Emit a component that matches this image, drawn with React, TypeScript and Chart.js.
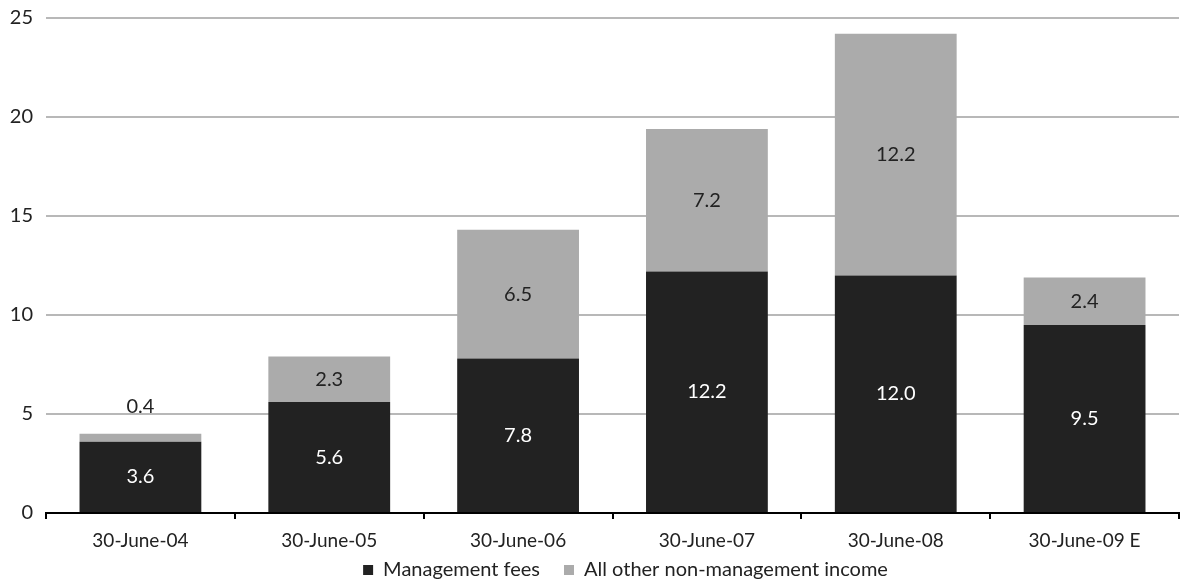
import React, { useEffect, useRef } from "react";
import { Chart, registerables } from "chart.js";

Chart.register(...registerables);

const categories = ["30-June-04", "30-June-05", "30-June-06", "30-June-07", "30-June-08", "30-June-09 E"];
const managementFees = [3.6, 5.6, 7.8, 12.2, 12.0, 9.5];
const otherIncome = [0.4, 2.3, 6.5, 7.2, 12.2, 2.4];
const yTickValues = [0, 5, 10, 15, 20, 25];

const FONT = "Lato, 'Open Sans', sans-serif";

const labelPlugin = {
  id: "barLabels",
  afterDatasetsDraw(chart: any) {
    const ctx = chart.ctx;
    chart.data.datasets.forEach((ds: any, di: number) => {
      const meta = chart.getDatasetMeta(di);
      meta.data.forEach((bar: any, i: number) => {
        const v = ds.data[i] as number;
        const { x, y, base } = bar.getProps(["x", "y", "base"], true);
        const h = base - y;
        let ty = (y + base) / 2;
        let color = di === 0 ? "#ffffff" : "#222222";
        if (h < 22) {
          ty = y - 27;
          color = "#222222";
        }
        ctx.save();
        ctx.font = `20px ${FONT}`;
        ctx.textAlign = "center";
        ctx.textBaseline = "middle";
        ctx.fillStyle = color;
        ctx.fillText(v.toFixed(1), x, ty);
        ctx.restore();
      });
    });
  },
};

const legendShift = {
  id: "legendShift",
  afterLayout(chart: any) {
    if (chart.legend) {
      chart.legend.left += 36;
      chart.legend.right += 36;
      chart.legend.top -= 19;
      chart.legend.bottom -= 19;
    }
  },
};

export default function App() {
  const ref = useRef<HTMLCanvasElement | null>(null);
  useEffect(() => {
    if (!ref.current) return;
    const chart = new Chart(ref.current, {
      type: "bar",
      data: {
        labels: categories,
        datasets: [
          {
            label: "Management fees",
            data: managementFees,
            backgroundColor: "#222222",
            borderWidth: 0,
            barPercentage: 0.645,
            categoryPercentage: 1,
          },
          {
            label: "All other non-management income",
            data: otherIncome,
            backgroundColor: "#ababab",
            borderWidth: 0,
            barPercentage: 0.645,
            categoryPercentage: 1,
          },
        ],
      },
      options: {
        animation: false,
        responsive: true,
        maintainAspectRatio: false,
        layout: { padding: { left: 0, right: 2, top: 0, bottom: -26 } },
        plugins: {
          tooltip: { enabled: false },
          legend: {
            position: "bottom",
            labels: {
              color: "#222",
              font: { family: FONT, size: 20 },
              boxWidth: 10,
              boxHeight: 10,
              padding: 24,
            },
          },
        },
        scales: {
          x: {
            stacked: true,
            afterFit: (scale: any) => {
              scale.height = 42;
            },
            grid: {
              offset: true,
              drawOnChartArea: false,
              drawTicks: true,
              tickLength: 6,
              color: "#000",
              lineWidth: 2,
            },
            border: { display: true, color: "#000", width: 2 },
            ticks: {
              color: "#222",
              font: { family: FONT, size: 19 },
              padding: 10,
            },
          },
          y: {
            stacked: true,
            min: 0,
            max: 25,
            afterFit: (scale: any) => {
              scale.width = 46;
              scale.paddingTop = 18;
              scale.paddingBottom = 0;
            },
            afterBuildTicks: (scale: any) => {
              scale.ticks = yTickValues.map((v) => ({ value: v }));
            },
            grid: {
              drawTicks: false,
              color: (c: any) => (c.tick && c.tick.value === 0 ? "rgba(0,0,0,0)" : "#b8b8b8"),
              lineWidth: 2,
            },
            border: { display: false },
            ticks: {
              color: "#222",
              font: { family: FONT, size: 20 },
              padding: 13,
            },
          },
        },
      },
      plugins: [labelPlugin, legendShift],
    });
    return () => chart.destroy();
  }, []);
  return (
    <div style={{ position: "absolute", left: 0, top: 0, width: 1181, height: 583, background: "#fff" }}>
      <canvas ref={ref} />
    </div>
  );
}
